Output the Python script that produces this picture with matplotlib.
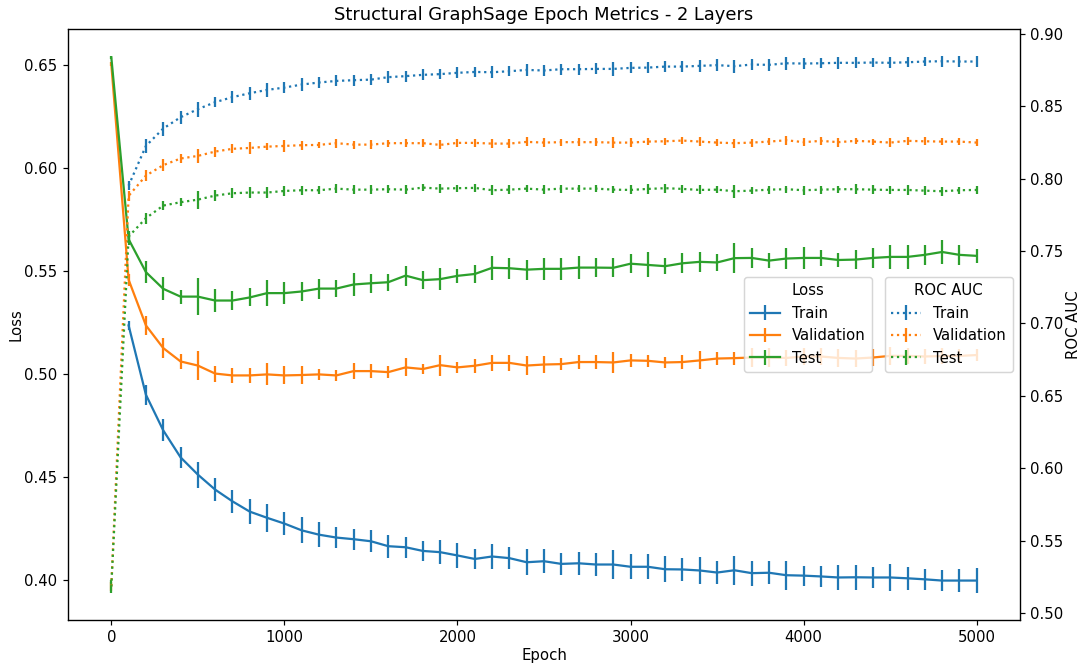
import numpy as np
import matplotlib
matplotlib.use("Agg")
import matplotlib.pyplot as plt

nan = np.nan
epochs = list(range(0, 5001, 100))

# Loss (mean and spread over runs)
loss_train = [nan, 0.5235, 0.4898, 0.4725, 0.4594, 0.4510, 0.4437, 0.4380, 0.4330, 0.4300, 0.4272,
              0.4239, 0.4218, 0.4204, 0.4196, 0.4186, 0.4162, 0.4157, 0.4139, 0.4133, 0.4117,
              0.4100, 0.4112, 0.4104, 0.4084, 0.4089, 0.4076, 0.4079, 0.4073, 0.4073, 0.4062,
              0.4062, 0.4050, 0.4049, 0.4044, 0.4034, 0.4045, 0.4031, 0.4033, 0.4021, 0.4019,
              0.4015, 0.4010, 0.4011, 0.4010, 0.4010, 0.4006, 0.4001, 0.3995, 0.3995, 0.3995]
loss_train_err = [nan, 0.0020, 0.0049, 0.0054, 0.0052, 0.0063, 0.0055, 0.0055, 0.0061, 0.0069, 0.0057,
                  0.0063, 0.0061, 0.0050, 0.0052, 0.0053, 0.0056, 0.0052, 0.0047, 0.0058, 0.0060,
                  0.0049, 0.0060, 0.0053, 0.0062, 0.0059, 0.0054, 0.0057, 0.0057, 0.0070, 0.0060,
                  0.0061, 0.0062, 0.0057, 0.0066, 0.0058, 0.0070, 0.0061, 0.0057, 0.0071, 0.0049,
                  0.0049, 0.0059, 0.0060, 0.0053, 0.0066, 0.0056, 0.0050, 0.0050, 0.0057, 0.0061]

loss_val = [0.6505, 0.5457, 0.5235, 0.5125, 0.5060, 0.5040, 0.5001, 0.4992, 0.4992, 0.4997, 0.4992,
            0.4994, 0.4997, 0.4992, 0.5013, 0.5013, 0.5008, 0.5031, 0.5023, 0.5042, 0.5031,
            0.5039, 0.5053, 0.5053, 0.5040, 0.5045, 0.5047, 0.5057, 0.5057, 0.5055, 0.5065,
            0.5063, 0.5055, 0.5057, 0.5065, 0.5074, 0.5076, 0.5079, 0.5079, 0.5077, 0.5084,
            0.5084, 0.5077, 0.5074, 0.5079, 0.5087, 0.5087, 0.5084, 0.5086, 0.5087, 0.5091]
loss_val_err = [0.0008, 0.0030, 0.0048, 0.0050, 0.0035, 0.0072, 0.0039, 0.0035, 0.0038, 0.0053, 0.0044,
                0.0044, 0.0025, 0.0028, 0.0040, 0.0035, 0.0030, 0.0044, 0.0025, 0.0051, 0.0028,
                0.0035, 0.0040, 0.0038, 0.0044, 0.0039, 0.0028, 0.0033, 0.0036, 0.0049, 0.0031,
                0.0028, 0.0027, 0.0034, 0.0044, 0.0030, 0.0031, 0.0044, 0.0046, 0.0040, 0.0040,
                0.0040, 0.0042, 0.0040, 0.0040, 0.0042, 0.0040, 0.0038, 0.0040, 0.0035, 0.0028]

loss_test = [0.6538, 0.5654, 0.5494, 0.5413, 0.5375, 0.5375, 0.5356, 0.5356, 0.5371, 0.5392, 0.5392,
             0.5400, 0.5414, 0.5414, 0.5434, 0.5440, 0.5445, 0.5477, 0.5455, 0.5460, 0.5476,
             0.5485, 0.5515, 0.5513, 0.5506, 0.5510, 0.5510, 0.5516, 0.5516, 0.5515, 0.5535,
             0.5529, 0.5523, 0.5537, 0.5544, 0.5541, 0.5562, 0.5563, 0.5550, 0.5560, 0.5563,
             0.5563, 0.5553, 0.5555, 0.5563, 0.5568, 0.5568, 0.5578, 0.5592, 0.5578, 0.5573]
loss_test_err = [0.0007, 0.0028, 0.0054, 0.0056, 0.0034, 0.0090, 0.0056, 0.0046, 0.0044, 0.0065, 0.0052,
                 0.0045, 0.0049, 0.0040, 0.0054, 0.0045, 0.0041, 0.0048, 0.0043, 0.0052, 0.0034,
                 0.0046, 0.0058, 0.0051, 0.0049, 0.0053, 0.0052, 0.0054, 0.0045, 0.0046, 0.0045,
                 0.0061, 0.0040, 0.0048, 0.0048, 0.0041, 0.0072, 0.0049, 0.0037, 0.0051, 0.0052,
                 0.0040, 0.0036, 0.0046, 0.0047, 0.0058, 0.0057, 0.0048, 0.0060, 0.0047, 0.0034]

# ROC AUC (mean and spread over runs)
auc_train = [nan, 0.7952, 0.8226, 0.8346, 0.8424, 0.8480, 0.8528, 0.8563, 0.8590, 0.8613, 0.8629,
             0.8650, 0.8664, 0.8675, 0.8680, 0.8684, 0.8701, 0.8708, 0.8717, 0.8722, 0.8731,
             0.8737, 0.8735, 0.8742, 0.8751, 0.8747, 0.8756, 0.8756, 0.8758, 0.8758, 0.8765,
             0.8767, 0.8774, 0.8774, 0.8779, 0.8784, 0.8777, 0.8788, 0.8786, 0.8797, 0.8795,
             0.8797, 0.8800, 0.8800, 0.8802, 0.8800, 0.8804, 0.8809, 0.8811, 0.8809, 0.8809]
auc_train_err = [nan, 0.0031, 0.0048, 0.0048, 0.0046, 0.0051, 0.0035, 0.0043, 0.0046, 0.0046, 0.0038,
                 0.0046, 0.0040, 0.0038, 0.0039, 0.0036, 0.0040, 0.0038, 0.0039, 0.0037, 0.0037,
                 0.0037, 0.0040, 0.0035, 0.0040, 0.0040, 0.0037, 0.0039, 0.0038, 0.0047, 0.0038,
                 0.0040, 0.0040, 0.0040, 0.0041, 0.0041, 0.0044, 0.0038, 0.0039, 0.0046, 0.0036,
                 0.0033, 0.0041, 0.0037, 0.0032, 0.0039, 0.0036, 0.0030, 0.0037, 0.0036, 0.0039]

auc_val = [0.5185, 0.7881, 0.8021, 0.8093, 0.8139, 0.8157, 0.8187, 0.8206, 0.8212, 0.8221, 0.8226,
           0.8231, 0.8233, 0.8245, 0.8235, 0.8235, 0.8245, 0.8245, 0.8245, 0.8233, 0.8247,
           0.8247, 0.8242, 0.8242, 0.8254, 0.8249, 0.8252, 0.8252, 0.8252, 0.8249, 0.8249,
           0.8256, 0.8258, 0.8263, 0.8256, 0.8249, 0.8245, 0.8249, 0.8256, 0.8265, 0.8252,
           0.8261, 0.8252, 0.8261, 0.8256, 0.8249, 0.8261, 0.8258, 0.8256, 0.8256, 0.8249]
auc_val_err = [0.0030, 0.0035, 0.0040, 0.0043, 0.0033, 0.0050, 0.0035, 0.0031, 0.0040, 0.0023, 0.0039,
               0.0031, 0.0023, 0.0030, 0.0028, 0.0030, 0.0025, 0.0029, 0.0028, 0.0031, 0.0029,
               0.0029, 0.0031, 0.0029, 0.0031, 0.0031, 0.0024, 0.0026, 0.0028, 0.0037, 0.0030,
               0.0025, 0.0023, 0.0023, 0.0031, 0.0026, 0.0032, 0.0028, 0.0025, 0.0030, 0.0028,
               0.0026, 0.0030, 0.0020, 0.0021, 0.0030, 0.0028, 0.0028, 0.0024, 0.0023, 0.0026]

auc_test = [0.5182, 0.7600, 0.7727, 0.7814, 0.7837, 0.7855, 0.7883, 0.7899, 0.7904, 0.7904, 0.7915,
            0.7920, 0.7920, 0.7931, 0.7924, 0.7924, 0.7927, 0.7924, 0.7938, 0.7931, 0.7934,
            0.7936, 0.7920, 0.7924, 0.7931, 0.7924, 0.7931, 0.7931, 0.7931, 0.7924, 0.7922,
            0.7929, 0.7934, 0.7929, 0.7922, 0.7924, 0.7913, 0.7917, 0.7924, 0.7927, 0.7920,
            0.7924, 0.7927, 0.7927, 0.7924, 0.7922, 0.7922, 0.7917, 0.7913, 0.7920, 0.7922]
auc_test_err = [0.0045, 0.0035, 0.0038, 0.0031, 0.0028, 0.0063, 0.0040, 0.0035, 0.0037, 0.0035, 0.0032,
                0.0032, 0.0026, 0.0031, 0.0029, 0.0030, 0.0026, 0.0033, 0.0026, 0.0029, 0.0024,
                0.0030, 0.0033, 0.0033, 0.0024, 0.0029, 0.0028, 0.0025, 0.0024, 0.0026, 0.0031,
                0.0032, 0.0031, 0.0026, 0.0031, 0.0025, 0.0045, 0.0026, 0.0028, 0.0023, 0.0032,
                0.0028, 0.0025, 0.0036, 0.0029, 0.0029, 0.0036, 0.0029, 0.0030, 0.0025, 0.0028]

split_names = ["Train", "Validation", "Test"]
colors = ["C0", "C1", "C2"]

DPI = 107.5
fig, ax1 = plt.subplots(figsize=(1085 / DPI, 664 / DPI), dpi=DPI)
fig.subplots_adjust(left=0.0627, right=0.9401, top=0.9563, bottom=0.0663)
ax2 = ax1.twinx()

loss_handles = []
for name, col, y, e in zip(split_names, colors,
                           [loss_train, loss_val, loss_test],
                           [loss_train_err, loss_val_err, loss_test_err]):
    h = ax1.errorbar(epochs, y, yerr=e, color=col, label=name)
    loss_handles.append(h)

auc_handles = []
for name, col, y, e in zip(split_names, colors,
                           [auc_train, auc_val, auc_test],
                           [auc_train_err, auc_val_err, auc_test_err]):
    h = ax2.errorbar(epochs, y, yerr=e, color=col, linestyle=":", label=name)
    auc_handles.append(h)

ax1.set_xlabel("Epoch", labelpad=1.5)
ax1.set_ylabel("Loss", labelpad=0.5)
ax2.set_ylabel("ROC AUC", labelpad=1.5)
ax1.set_title("Structural GraphSage Epoch Metrics - 2 Layers")

leg_loss = ax2.legend(loss_handles, split_names, title="Loss",
                      loc="center right", bbox_to_anchor=(0.852, 0.5))
ax2.add_artist(leg_loss)
ax2.legend(auc_handles, split_names, title="ROC AUC", loc="center right")

fig.savefig("out.png", dpi=DPI)
